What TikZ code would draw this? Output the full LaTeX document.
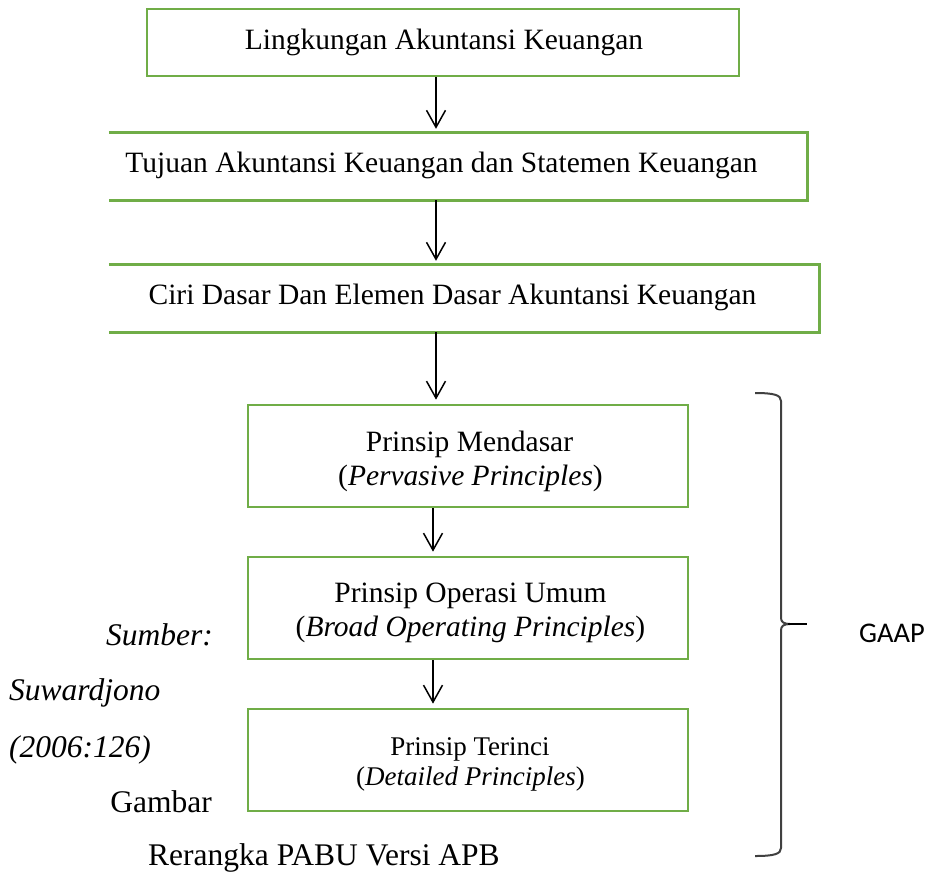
\documentclass[tikz,border=0pt]{standalone}
\usepackage{fontspec}
\setmainfont{Liberation Serif}
\newfontfamily\gaapfont{Carlito}
\usetikzlibrary{arrows.meta,calc}
\definecolor{boxgreen}{HTML}{70AD47}
\definecolor{bracegray}{HTML}{404040}
\begin{document}
\begin{tikzpicture}[x=1pt,y=-1pt,
  greenbox/.style={draw=boxgreen, line width=2.7pt, rectangle, inner sep=0pt},
  openbox/.style={draw=none, rectangle, inner sep=0pt},
  opensides/.style={draw=boxgreen, line width=2.7pt},
  arr/.style={draw=black, line width=1.5pt, -{Straight Barb[length=17pt,width=19pt]}},
  txt/.style={inner sep=0pt, anchor=base, font=\fontsize{29.5}{34}\selectfont},
  smalltxt/.style={inner sep=0pt, anchor=base, font=\fontsize{27}{30}\selectfont},
  captxt/.style={inner sep=0pt, font=\fontsize{31.5}{36}\selectfont},
  bracestyle/.style={draw=bracegray, line width=2pt}]
\useasboundingbox (0,0) rectangle (933,873);
\fill[white] (0,0) rectangle (933,873);

% boxes
\node[greenbox, minimum width=592pt, minimum height=67pt] (b1) at (443,42.5) {};
\node[openbox, minimum width=698pt, minimum height=67pt] (b2) at (458,166.5) {};
\node[openbox, minimum width=710pt, minimum height=67pt] (b3) at (464,298.5) {};
\node[greenbox, minimum width=440pt, minimum height=102pt] (b4) at (468,456) {};
\node[greenbox, minimum width=440pt, minimum height=102pt] (b5) at (468,608) {};
\node[greenbox, minimum width=440pt, minimum height=102pt] (b6) at (468,760) {};
\draw[opensides] (b2.north west) -- (b2.north east) -- (b2.south east) -- (b2.south west);
\draw[opensides] (b3.north west) -- (b3.north east) -- (b3.south east) -- (b3.south west);

% box texts
\node[txt] (t1) at (444,49) {Lingkungan Akuntansi Keuangan};
\node[txt] (t2) at (441.5,172) {Tujuan Akuntansi Keuangan dan Statemen Keuangan};
\node[txt] (t3) at (452.5,304) {Ciri Dasar Dan Elemen Dasar Akuntansi Keuangan};
\node[txt] (t4a) at (469.5,451) {Prinsip Mendasar};
\node[txt] (t4b) at (470.5,485) {(\textit{Pervasive Principles})};
\node[txt] (t5a) at (470.5,602) {Prinsip Operasi Umum};
\node[txt] (t5b) at (470.5,636) {(\textit{Broad Operating Principles})};
\node[smalltxt] (t6a) at (470,755) {Prinsip Terinci};
\node[smalltxt] (t6b) at (470.5,785) {(\textit{Detailed Principles})};

% arrows
\coordinate (ax) at (436,0);
\coordinate (bx) at (433,0);
\draw[arr] (b1.south -| ax) -- ($(b2.north -| ax)+(0,-4)$);
\draw[arr] (b2.south -| ax) -- ($(b3.north -| ax)+(0,-4)$);
\draw[arr] (b3.south -| ax) -- ($(b4.north -| ax)+(0,-4)$);
\draw[arr] (b4.south -| bx) -- ($(b5.north -| bx)+(0,-4)$);
\draw[arr] (b5.south -| bx) -- ($(b6.north -| bx)+(0,-4)$);

% caption texts
\node[captxt, anchor=base east] (sumber) at (213,645) {\textit{Sumber:}};
\node[captxt, anchor=base west] (suw) at (9,700) {\textit{Suwardjono}};
\node[captxt, anchor=base west] (year) at (9,757) {\textit{(2006:126)}};
\node[captxt, anchor=base east] (gambar) at (212,812) {Gambar};
\node[captxt, anchor=base west] (rerangka) at (148,865) {Rerangka PABU Versi APB};

% brace
\draw[bracestyle] (755,393) .. controls (774,393) and (781,395) .. (781,401) -- (781,618)
  .. controls (781,622) and (784,624) .. (790,624);
\draw[bracestyle] (755,856) .. controls (774,856) and (781,854) .. (781,848) -- (781,630)
  .. controls (781,626) and (784,624) .. (790,624);
\draw[black, line width=2pt] (788,624) -- (807,624);
\node[inner sep=0pt, anchor=base west, font=\gaapfont\fontsize{28.5}{32}\selectfont] (gaap) at (859,642) {GAAP};
\end{tikzpicture}
\end{document}
